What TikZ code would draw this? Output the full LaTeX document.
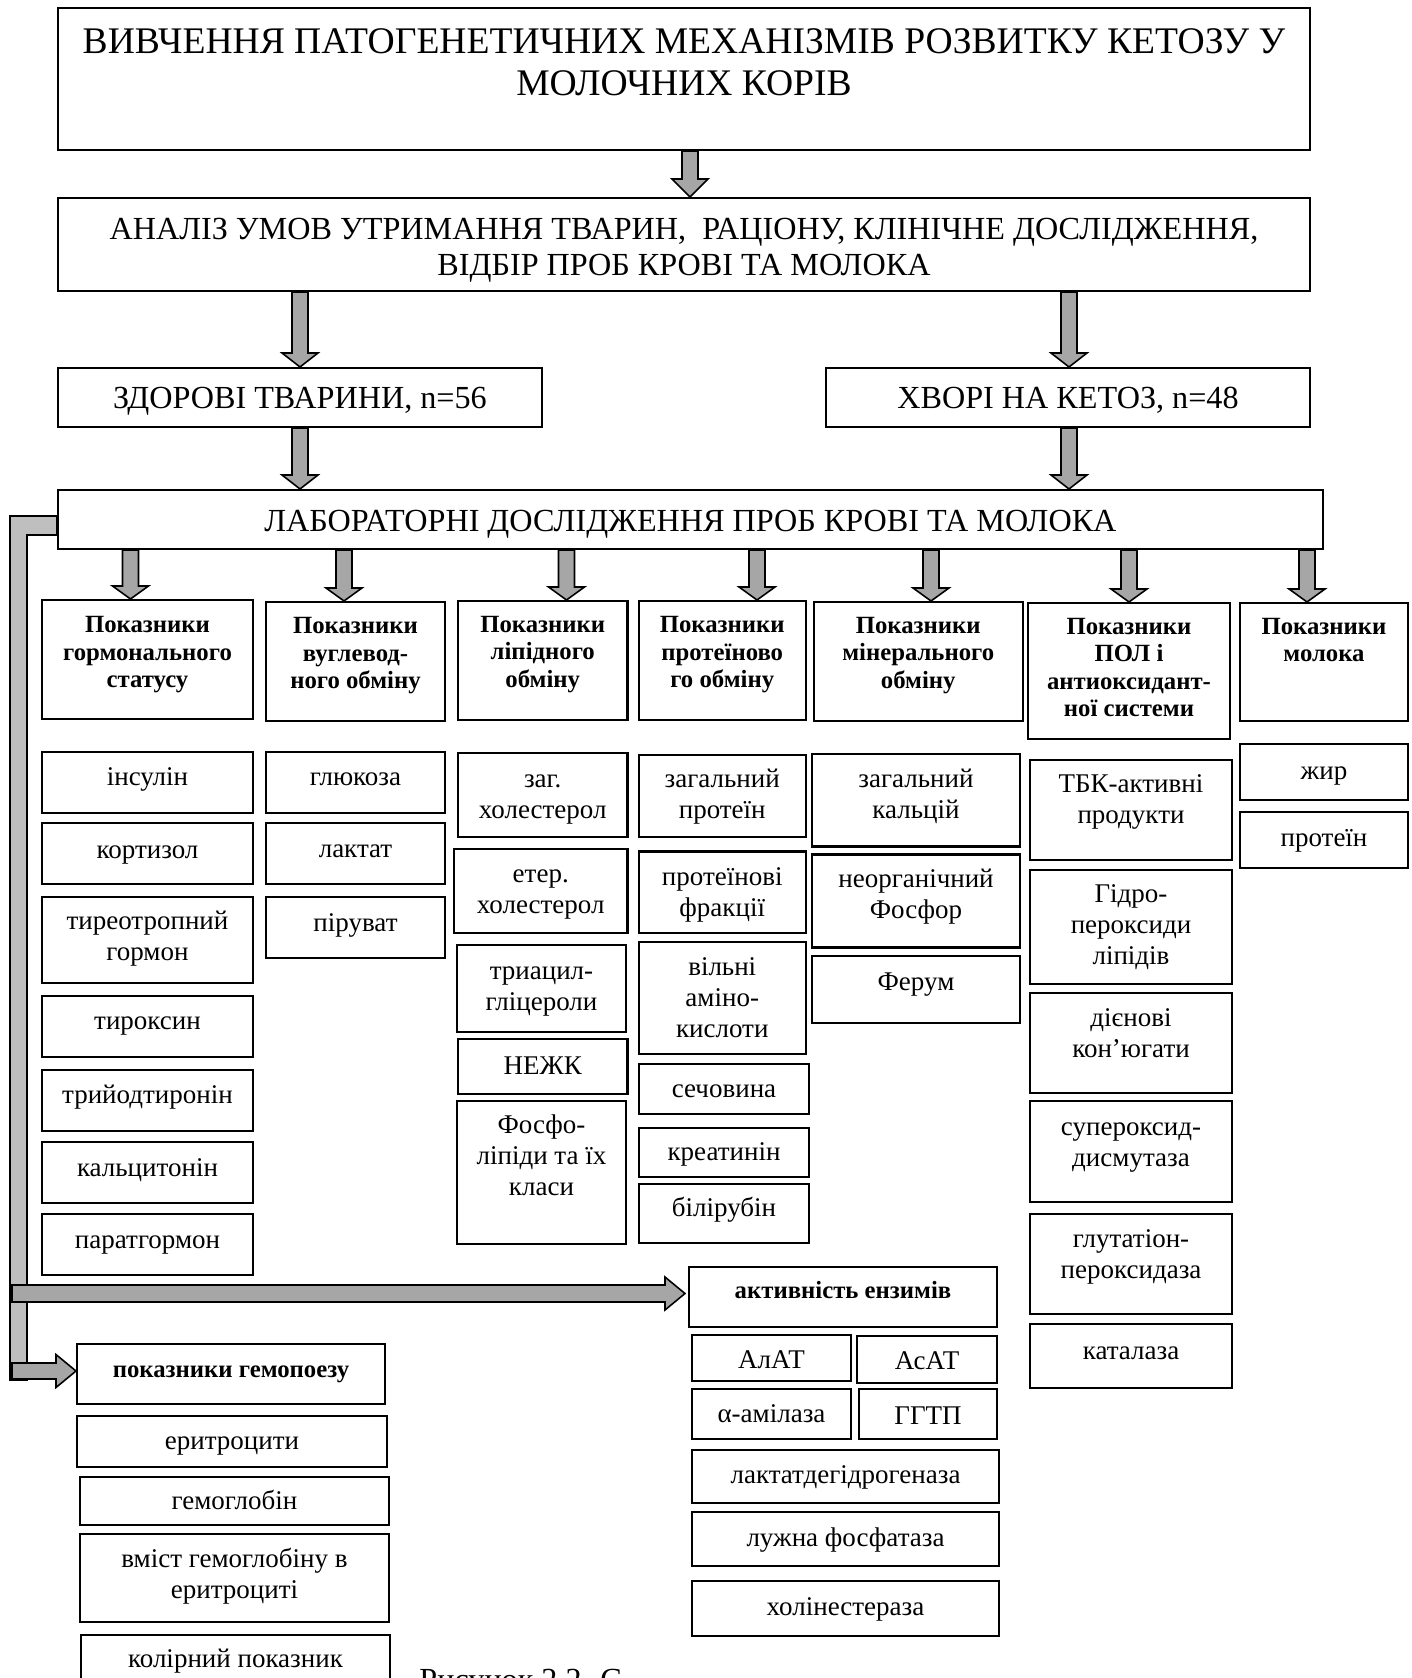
\documentclass[tikz,border=0pt]{standalone}
\usepackage{fontspec}
\setmainfont{Liberation Serif}
\usetikzlibrary{calc,fit}
\definecolor{agray}{RGB}{166,166,166}
\definecolor{bgray}{RGB}{191,191,191}
\newcommand\sL{\rule[-0.25em]{0pt}{0.95em}}
% box: [style]{name}{x1}{y1}{x2}{y2}{text centre y}{text}
\newcommand\bx[8][txt]{%
  \coordinate (#2-a) at (#3,#4);
  \coordinate (#2-b) at (#5,#6);
  \node[box, fit=(#2-a)(#2-b)] (#2) {};
  \node[#1] (#2-t) at (#2.center |- 0,#7) {#8};
}
% vertical block arrow: {source}{target}{x}{head length}
\newcommand\varr[4]{%
  \path[blk] ($(#1.south -| #3,0)+(-8,0)$) -- ($(#2.north -| #3,0)+(-8,-#4)$)
    -- ($(#2.north -| #3,0)+(-18,-#4)$) -- (#2.north -| #3,0)
    -- ($(#2.north -| #3,0)+(18,-#4)$) -- ($(#2.north -| #3,0)+(8,-#4)$)
    -- ($(#1.south -| #3,0)+(8,0)$) -- cycle;
}
% horizontal block arrow: {source coordinate}{target}{y}{shaft half}{tip offset}
\newcommand\harr[5]{%
  \path[blk] ($(#1 |- 0,#3)+(-6.5,-#4)$) -- ($(#2.west |- 0,#3)+(#5-20,-#4)$)
    -- ($(#2.west |- 0,#3)+(#5-20,-16.5)$) -- ($(#2.west |- 0,#3)+(#5,0)$)
    -- ($(#2.west |- 0,#3)+(#5-20,16.5)$) -- ($(#2.west |- 0,#3)+(#5-20,#4)$)
    -- ($(#1 |- 0,#3)+(-6.5,#4)$) -- cycle;
}
\begin{document}
\begin{tikzpicture}[x=0.4444pt,y=-0.4444pt,
  box/.style={draw, line width=0.9pt, inner sep=0pt},
  txt/.style={inner sep=0pt, align=center, font=\fontsize{12}{13.8}\selectfont},
  hdr/.style={inner sep=0pt, align=center, font=\bfseries\fontsize{11}{12.2}\selectfont},
  big/.style={inner sep=0pt, align=center, font=\fontsize{14.3}{16}\selectfont},
  ttl/.style={inner sep=0pt, align=center, font=\fontsize{16.7}{18.7}\selectfont},
  blk/.style={fill=agray, draw=black, line width=0.7pt},
  trk/.style={fill=bgray, draw=black, line width=0.7pt}]
\useasboundingbox (0,0) rectangle (1411,1678);

% top chain
\bx[ttl]{title}{58}{8}{1310}{150}{65.9}{\sL ВИВЧЕННЯ ПАТОГЕНЕТИЧНИХ МЕХАНІЗМІВ РОЗВИТКУ КЕТОЗУ У\\\sL МОЛОЧНИХ КОРІВ}
\bx[big]{anal}{58}{198}{1310}{291}{250}{\sL АНАЛІЗ УМОВ УТРИМАННЯ ТВАРИН,~ РАЦІОНУ, КЛІНІЧНЕ ДОСЛІДЖЕННЯ,\\\sL ВІДБІР ПРОБ КРОВІ ТА МОЛОКА}
\bx[big]{zdor}{58}{368}{542}{427}{401}{\sL ЗДОРОВІ ТВАРИНИ, n=56}
\bx[big]{hvor}{826}{368}{1310}{427}{401}{\sL ХВОРІ НА КЕТОЗ, n=48}
\bx[big]{lab}{58}{490}{1323}{549}{524}{\sL ЛАБОРАТОРНІ ДОСЛІДЖЕННЯ ПРОБ КРОВІ ТА МОЛОКА}

% headers
\bx[hdr]{h1}{42}{600}{253}{719}{654.5}{\sL Показники\\\sL гормонального\\\sL статусу}
\bx[hdr]{h2}{266}{602}{445}{721}{655.5}{\sL Показники\\\sL вуглевод-\\\sL ного обміну}
\bx[hdr]{h3}{458}{601}{627.5}{720}{654}{\sL Показники\\\sL ліпідного\\\sL обміну}
\bx[hdr]{h4}{639}{601}{805.5}{720}{654.5}{\sL Показники\\\sL протеїново\\\sL го обміну}
\bx[hdr]{h5}{814}{602}{1022.5}{721}{655}{\sL Показники\\\sL мінерального\\\sL обміну}
\bx[hdr]{h6}{1028}{603}{1230}{739}{670}{\sL Показники\\\sL ПОЛ і\\\sL антиоксидант-\\\sL ної системи}
\bx[hdr]{h7}{1240}{603}{1408}{721}{642.5}{\sL Показники\\\sL молока}

% column 1
\bx{c1a}{42}{752}{253}{813}{779}{\sL інсулін}
\bx{c1b}{42}{823}{253}{884}{852}{\sL кортизол}
\bx{c1c}{42}{897}{253}{983}{939}{\sL тиреотропний\\\sL гормон}
\bx{c1d}{42}{996}{253}{1057}{1023}{\sL тироксин}
\bx{c1e}{42}{1070}{253}{1131}{1097}{\sL трийодтиронін}
\bx{c1f}{42}{1142}{253}{1203}{1170}{\sL кальцитонін}
\bx{c1g}{42}{1214}{253}{1275}{1242}{\sL паратгормон}
% column 2
\bx{c2a}{266}{752}{445}{813}{779}{\sL глюкоза}
\bx{c2b}{266}{823}{445}{884}{851}{\sL лактат}
\bx{c2c}{266}{897}{445}{958}{925}{\sL піруват}
% column 3
\bx{c3a}{458}{753}{627.5}{837}{796.5}{\sL заг.\\\sL холестерол}
\bx{c3b}{454}{849}{627.5}{933}{892}{\sL етер.\\\sL холестерол}
\bx{c3c}{457}{945}{626}{1032}{988.5}{\sL триацил-\\\sL гліцероли}
\bx{c3d}{458}{1039}{627.5}{1093.5}{1068.8}{\sL НЕЖК}
\bx{c3e}{457}{1101}{626}{1244}{1158.5}{\sL Фосфо-\\\sL ліпіди та їх\\\sL класи}
% column 4
\bx{c4a}{639}{755}{805.5}{837}{797}{\sL загальний\\\sL протеїн}
\bx{c4b}{639}{851.5}{805.5}{933}{895}{\sL протеїнові\\\sL фракції}
\bx{c4c}{639}{942}{805.5}{1054}{1000}{\sL вільні\\\sL аміно-\\\sL кислоти}
\bx{c4d}{639}{1064}{809}{1114}{1091}{\sL сечовина}
\bx{c4e}{639}{1128}{809}{1177}{1154.5}{\sL креатинін}
\bx{c4f}{639}{1184}{809}{1243}{1210.5}{\sL білірубін}
% column 5
\bx{c5a}{812}{754}{1020}{846.5}{797}{\sL загальний\\\sL кальцій}
\bx{c5b}{812}{854.5}{1020}{947.5}{896.5}{\sL неорганічний\\\sL Фосфор}
\bx{c5c}{812}{956}{1020}{1023}{984}{\sL Ферум}
% column 6
\bx{c6a}{1030}{760}{1232}{860}{802}{\sL ТБК-активні\\\sL продукти}
\bx{c6b}{1030}{870}{1232}{984}{927}{\sL Гідро-\\\sL пероксиди\\\sL ліпідів}
\bx{c6c}{1030}{993}{1232}{1093}{1036}{\sL дієнові\\\sL кон’югати}
\bx{c6d}{1030}{1101}{1232}{1202}{1144.5}{\sL супероксид-\\\sL дисмутаза}
\bx{c6e}{1030}{1214}{1232}{1314}{1256.7}{\sL глутатіон-\\\sL пероксидаза}
\bx{c6f}{1030}{1324}{1232}{1388}{1353}{\sL каталаза}
% column 7
\bx{c7a}{1240}{744}{1408}{800}{773}{\sL жир}
\bx{c7b}{1240}{812}{1408}{868}{840}{\sL протеїн}

% enzymes
\bx[hdr]{enz}{689}{1267}{997}{1327}{1293}{\sL активність ензимів}
\bx{e1}{692}{1335}{851}{1381}{1362}{\sL АлАТ}
\bx{e2}{857}{1336}{997}{1383}{1363}{\sL АсАТ}
\bx{e3}{692}{1389}{851}{1439}{1416.7}{\sL α-амілаза}
\bx{e4}{859}{1389}{997}{1439}{1418}{\sL ГГТП}
\bx{e5}{692}{1450}{999}{1503}{1477}{\sL лактатдегідрогеназа}
\bx{e6}{692}{1512}{999}{1566}{1540}{\sL лужна фосфатаза}
\bx{e7}{692}{1581}{999}{1636}{1609}{\sL холінестераза}

% haemopoiesis
\bx[hdr]{hem}{77}{1344}{385}{1404}{1371.7}{\sL показники гемопоезу}
\bx{m1}{77}{1416}{387}{1467}{1443}{\sL еритроцити}
\bx{m2}{80}{1477}{389}{1525}{1503}{\sL гемоглобін}
\bx{m3}{80}{1534}{389}{1622}{1576.7}{\sL вміст гемоглобіну в\\\sL еритроциті}
\bx{m4}{81}{1635}{390}{1720}{1661.7}{\sL колірний показник}

% caption (cut by the page edge, as in the reference)
\node[big, anchor=base west] (cap) at (419,1690) {Рисунок 2.2. С};

% vertical arrows
\varr{title}{anal}{690}{18}
\varr{anal}{zdor}{300}{14}
\varr{anal}{hvor}{1069}{14}
\varr{zdor}{lab}{300}{14}
\varr{hvor}{lab}{1069}{14}
\varr{lab}{h1}{130.5}{13}
\varr{lab}{h2}{344}{13}
\varr{lab}{h3}{566.5}{13}
\varr{lab}{h4}{757}{13}
\varr{lab}{h5}{931}{13}
\varr{lab}{h6}{1129}{13}
\varr{lab}{h7}{1307}{13}

% left trunk
\coordinate (trunk) at (18.5,1380);
\path[trk] (lab.west |- 0,516) -- ($(trunk |- 0,516)+(-8.5,0)$) -- ($(trunk)+(-8.5,0)$)
  -- ($(trunk)+(8.5,0)$) -- ($(trunk |- 0,535)+(8.5,0)$) -- (lab.west |- 0,535) -- cycle;
\harr{trunk}{enz}{1293.5}{8.5}{-3}
\harr{trunk}{hem}{1371}{8}{0}
\end{tikzpicture}
\end{document}
